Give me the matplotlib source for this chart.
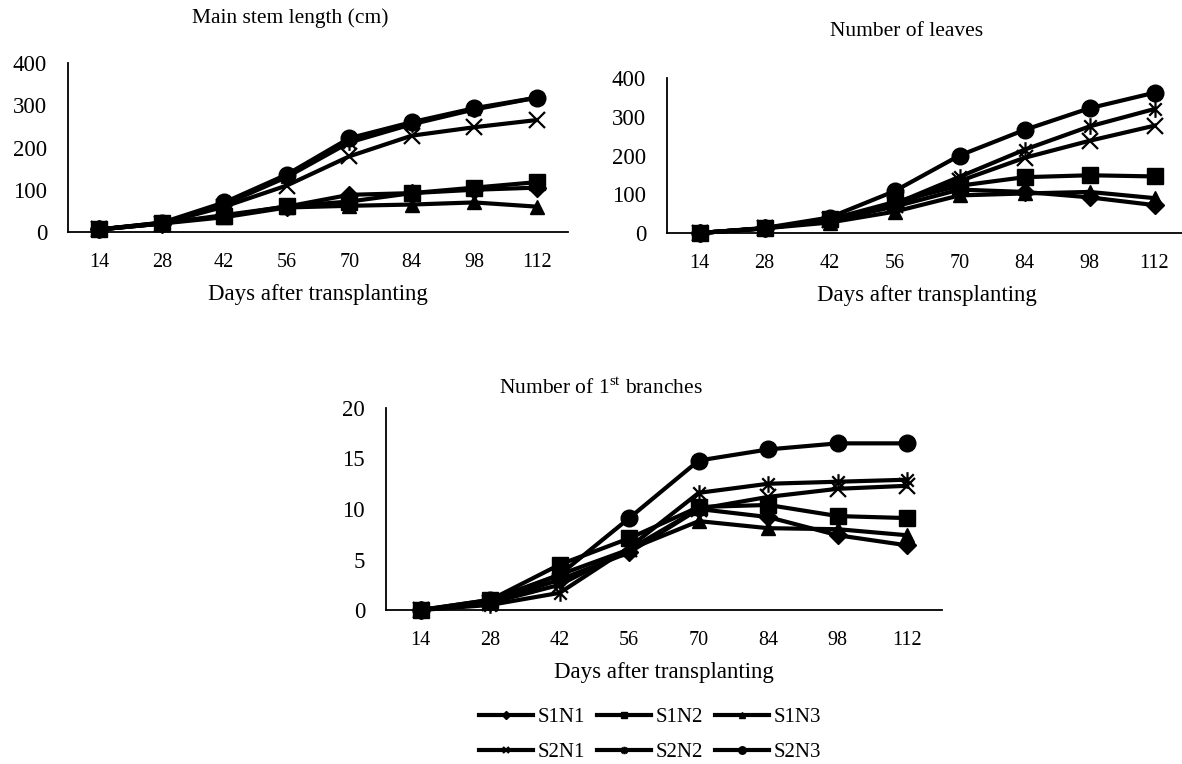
import matplotlib
matplotlib.use("Agg")
import matplotlib.pyplot as plt
from matplotlib.path import Path
import numpy as np

plt.rcParams['font.family'] = ['Liberation Serif', 'DejaVu Serif']
plt.rcParams['mathtext.fontset'] = 'custom'
plt.rcParams['mathtext.rm'] = 'Liberation Serif'

days = ["14", "28", "42", "56", "70", "84", "98", "112"]
series = ["S1N1", "S1N2", "S1N3", "S2N1", "S2N2", "S2N3"]

stem = {
    "S1N1": [6, 20, 40, 60, 88, 92, 100, 105],
    "S1N2": [6, 22, 37, 61, 72, 92, 105, 118],
    "S1N3": [6, 20, 35, 58, 62, 65, 70, 60],
    "S2N1": [6, 20, 60, 110, 179, 228, 248, 265],
    "S2N2": [6, 21, 65, 130, 212, 255, 290, 318],
    "S2N3": [6, 22, 70, 136, 222, 260, 293, 318],
}
leaves = {
    "S1N1": [0, 12, 32, 68, 112, 106, 92, 72],
    "S1N2": [0, 12, 35, 80, 122, 144, 149, 146],
    "S1N3": [0, 12, 27, 55, 97, 102, 106, 90],
    "S2N1": [0, 12, 33, 72, 134, 194, 238, 277],
    "S2N2": [0, 12, 34, 75, 145, 215, 275, 320],
    "S2N3": [0, 13, 40, 108, 200, 266, 322, 362],
}
branches = {
    "S1N1": [0, 0.8, 3.0, 5.7, 10.0, 9.2, 7.4, 6.4],
    "S1N2": [0, 1.0, 4.5, 7.1, 10.2, 10.4, 9.3, 9.1],
    "S1N3": [0, 0.8, 3.5, 6.0, 8.8, 8.1, 8.0, 7.4],
    "S2N1": [0, 0.7, 2.5, 6.0, 10.0, 11.2, 12.0, 12.3],
    "S2N2": [0, 0.5, 1.7, 6.2, 11.6, 12.5, 12.7, 12.9],
    "S2N3": [0, 1.0, 3.5, 9.1, 14.8, 15.9, 16.5, 16.5],
}

ast = Path([(0, -1), (0, 1), (-0.75, -0.75), (0.75, 0.75), (-0.75, 0.75), (0.75, -0.75)],
           [Path.MOVETO, Path.LINETO, Path.MOVETO, Path.LINETO, Path.MOVETO, Path.LINETO])
styles = {
    "S1N1": dict(marker="D", ms=9),
    "S1N2": dict(marker="s", ms=11),
    "S1N3": dict(marker="^", ms=10),
    "S2N1": dict(marker="x", ms=11, mew=1.6),
    "S2N2": dict(marker=ast, ms=12, mew=1.6),
    "S2N3": dict(marker="o", ms=12),
}

fig = plt.figure(figsize=(11.82, 7.64), dpi=100)
W, H = 1182, 764

def axes_px(l, r, t, b):
    return fig.add_axes([l / W, 1 - b / H, (r - l) / W, (b - t) / H])

ax1 = axes_px(68, 568, 63, 232)
ax2 = axes_px(667, 1187, 78, 233)
ax3 = axes_px(386, 942, 408, 610)

x = np.arange(len(days))
handles = {}
for ax, data, ymax, step in [(ax1, stem, 400, 100), (ax2, leaves, 400, 100), (ax3, branches, 20, 5)]:
    for s in series:
        st = styles[s]
        ln, = ax.plot(x, data[s], color="black", lw=3, mfc="black", mec="black",
                      marker=st["marker"], ms=st["ms"], mew=st.get("mew", 1), label=s,
                      solid_joinstyle="round", clip_on=False)
        handles[s] = ln
    ax.set_xlim(-0.5, len(days) - 0.5)
    ax.set_ylim(0, ymax)
    ax.set_yticks(np.arange(0, ymax + step, step))
    ax.set_xticks(x)
    ax.set_xticklabels(days)
    for sp in ["top", "right"]:
        ax.spines[sp].set_visible(False)
    for sp in ["left", "bottom"]:
        ax.spines[sp].set_linewidth(1.3)
    ax.tick_params(length=0)
    ax.tick_params(axis="x", labelsize=14.5, pad=15)
    ax.tick_params(axis="y", labelsize=16.5, pad=15)
    ax.set_xlabel("Days after transplanting", fontsize=16.5, labelpad=9)

fig.text(290 / W, 1 - 18 / H, "Main stem length (cm)", ha="center", va="center", fontsize=15.5)
fig.text(907 / W, 1 - 32 / H, "Number of leaves", ha="center", va="center", fontsize=15.5)
fig.text(601 / W, 1 - 388 / H, "Number of 1$^{\\mathrm{st}}$ branches", ha="center", va="center", fontsize=15.5)

order = ["S1N1", "S2N1", "S1N2", "S2N2", "S1N3", "S2N3"]
leg = fig.legend([handles[s] for s in order], order, ncol=3, loc="center",
                 bbox_to_anchor=(650 / W, 1 - 735 / H), frameon=False, fontsize=15,
                 handlelength=2.6, handletextpad=0.2, columnspacing=0.6,
                 markerscale=0.45, labelspacing=0.75, borderpad=0)

fig.savefig("out.png", dpi=100)
